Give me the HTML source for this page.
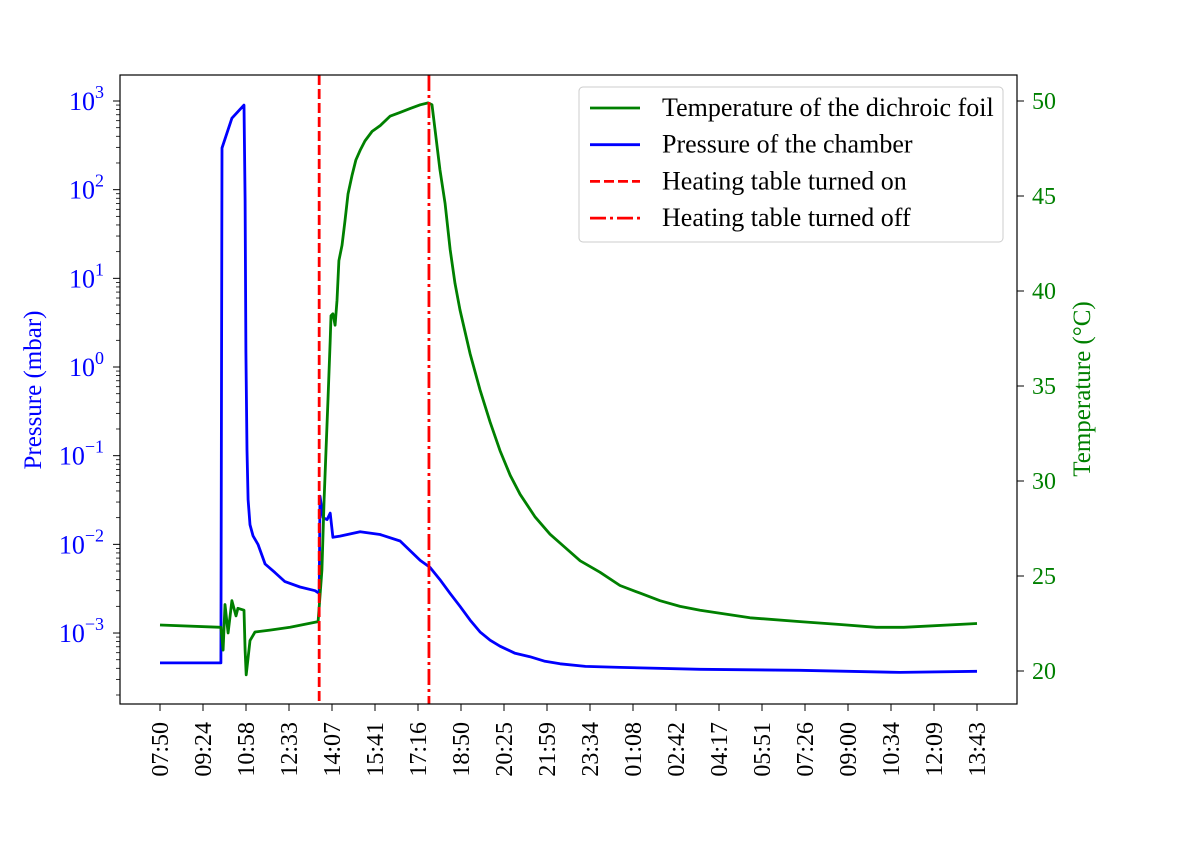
<!DOCTYPE html>
<html><head><meta charset="utf-8"><style>
body{margin:0;background:#fff}
svg text{font-family:"Liberation Serif",serif}
</style></head><body>
<svg id="chart" width="1196" height="854" xmlns="http://www.w3.org/2000/svg">
<rect width="1196" height="854" fill="#fff"/>
</svg>
<script>
// data (time in hours since 07:50)
const xTickLabels=["07:50","09:24","10:58","12:33","14:07","15:41","17:16","18:50","20:25","21:59","23:34","01:08","02:42","04:17","05:51","07:26","09:00","10:34","12:09","13:43"];
const pressTimes=[0,2.22,2.26,2.62,3.06,3.10,3.13,3.17,3.21,3.28,3.39,3.57,3.83,4.19,4.55,5.1,5.65,5.80,5.83,5.94,6.09,6.2,6.3,6.56,7.29,8.02,8.75,9.48,9.84,10.20,10.57,10.93,11.30,11.66,12.03,12.39,12.94,13.48,14.03,14.58,15.5,16.76,19.68,23.32,26.97,29.77];
const pressVals=[4.6e-4,4.6e-4,295,640,900,76,1.5,0.115,0.032,0.0166,0.0125,0.01,0.006,0.0048,0.0038,0.0033,0.0030,0.0028,0.035,0.02,0.019,0.0225,0.012,0.0124,0.0139,0.0129,0.0109,0.0066,0.0055,0.0040,0.0028,0.0020,0.0014,0.00103,0.00083,0.00071,0.00059,0.00054,0.00048,0.00045,0.00042,0.00041,0.00039,0.00038,0.00036,0.00037];
const tempTimes=[0,2.22,2.30,2.37,2.48,2.62,2.77,2.84,3.06,3.10,3.14,3.28,3.46,4.01,4.74,5.76,5.90,5.98,6.05,6.12,6.20,6.23,6.30,6.38,6.45,6.52,6.63,6.74,6.85,7.00,7.14,7.29,7.47,7.73,8.02,8.38,8.75,9.11,9.48,9.77,9.91,10.20,10.39,10.57,10.75,10.93,11.30,11.66,12.03,12.39,12.76,13.12,13.67,14.21,14.76,15.31,16.03,16.76,17.49,18.22,18.95,19.68,21.5,23.32,24.78,26.1,27.1,29.77];
const tempVals=[22.42,22.3,21.1,23.5,22.0,23.7,22.9,23.3,23.2,21.1,19.8,21.6,22.05,22.15,22.3,22.6,25.3,29.0,31.6,34.3,37.4,38.7,38.8,38.2,39.5,41.6,42.4,43.7,45.1,46.1,46.9,47.4,47.9,48.4,48.7,49.2,49.4,49.6,49.8,49.9,49.8,46.4,44.6,42.2,40.4,39.0,36.7,34.8,33.1,31.6,30.3,29.3,28.1,27.2,26.5,25.8,25.2,24.5,24.1,23.7,23.4,23.2,22.8,22.6,22.45,22.3,22.3,22.5];
const tempTicks=[20,25,30,35,40,45,50];
const logTicks=[-3,-2,-1,0,1,2,3];
const heatOn=5.8, heatOff=9.8;

const NS="http://www.w3.org/2000/svg";
const svg=document.getElementById('chart');
const L=120,R=1017,T=75,B=704;
const xs=h=>160+h*(817/29.77);
const yp=v=>101+(3-Math.log10(v))*88.67;
const yt=t=>101+(50-t)*19;
function mk(tag,attrs,parent){const e=document.createElementNS(NS,tag);for(const k in attrs)e.setAttribute(k,attrs[k]);(parent||svg).appendChild(e);return e;}

xTickLabels.forEach((lab,i)=>{
  const x=160+i*43;
  const tk=mk('line',{x1:x,x2:x,y1:B,y2:B+7,stroke:'#000','stroke-width':1});
  
  
  const t=mk('text',{x:0,y:0,'font-size':24,'text-anchor':'end',transform:`translate(${x+8},${B+18}) rotate(-90)`});
  t.textContent=lab;
  
  
});
logTicks.forEach(p=>{
  const y=yp(Math.pow(10,p));
  mk('line',{x1:L-7,x2:L,y1:y,y2:y,stroke:'#000'});
  const t=mk('text',{x:104,y:y+9,'font-size':26,fill:'#0000ff','text-anchor':'end'});
  t.innerHTML=`10<tspan dy="-12" font-size="18">${p<0?'\u2212'+(-p):p}</tspan>`;
  
  
});
for(let p=-4;p<=3;p++)for(let m=2;m<=9;m++){const v=m*Math.pow(10,p);const y=yp(v);if(y>T&&y<B)mk('line',{x1:L-4,x2:L,y1:y,y2:y,stroke:'#000','stroke-width':0.8});}
tempTicks.forEach(v=>{
  const y=yt(v);
  mk('line',{x1:R,x2:R+7,y1:y,y2:y,stroke:'#000'});
  const t=mk('text',{x:1032,y:y+8,'font-size':24,fill:'#008000'});
  t.textContent=v;
  
  
});
const pp=mk('path',{d:pressTimes.map((h,i)=>(i?'L':'M')+xs(h).toFixed(1)+','+yp(pressVals[i]).toFixed(1)).join(''),fill:'none',stroke:'#0000ff','stroke-width':2.8,'stroke-linejoin':'round'});


const tp=mk('path',{d:tempTimes.map((h,i)=>(i?'L':'M')+xs(h).toFixed(1)+','+yt(tempVals[i]).toFixed(1)).join(''),fill:'none',stroke:'#008000','stroke-width':2.8,'stroke-linejoin':'round'});


const on=mk('line',{x1:xs(heatOn),x2:xs(heatOn),y1:T,y2:B,stroke:'#ff0000','stroke-width':2.8,'stroke-dasharray':'10,4'});


const off=mk('line',{x1:xs(heatOff),x2:xs(heatOff),y1:T,y2:B,stroke:'#ff0000','stroke-width':2.8,'stroke-dasharray':'16,4,3,4'});


const fr=mk('rect',{x:L,y:T,width:R-L,height:B-T,fill:'none',stroke:'#000','stroke-width':1.2});


const lt=mk('text',{'font-size':25,fill:'#0000ff','text-anchor':'middle',transform:'translate(41,390) rotate(-90)'});
lt.textContent='Pressure (mbar)';


const rt=mk('text',{'font-size':25,fill:'#008000','text-anchor':'middle',transform:'translate(1090,389) rotate(-90)'});
rt.textContent='Temperature (°C)';


const lg=mk('g',{});


mk('rect',{x:579,y:87,width:424,height:155,rx:4,fill:'#fff','fill-opacity':0.85,stroke:'#ccc'},lg);
const entries=[['Temperature of the dichroic foil','#008000',''],['Pressure of the chamber','#0000ff',''],['Heating table turned on','#ff0000','10,4'],['Heating table turned off','#ff0000','16,4,3,4']];
entries.forEach((e,i)=>{
  const y=108+i*36.7;
  const g=mk('g',{},lg);
  
  
  mk('line',{x1:590,x2:640,y1:y,y2:y,stroke:e[1],'stroke-width':2.8,'stroke-dasharray':e[2]||'none'},g);
  const t=mk('text',{x:662,y:y+8,'font-size':26},g);
  t.textContent=e[0];
});
</script>
</body></html>
